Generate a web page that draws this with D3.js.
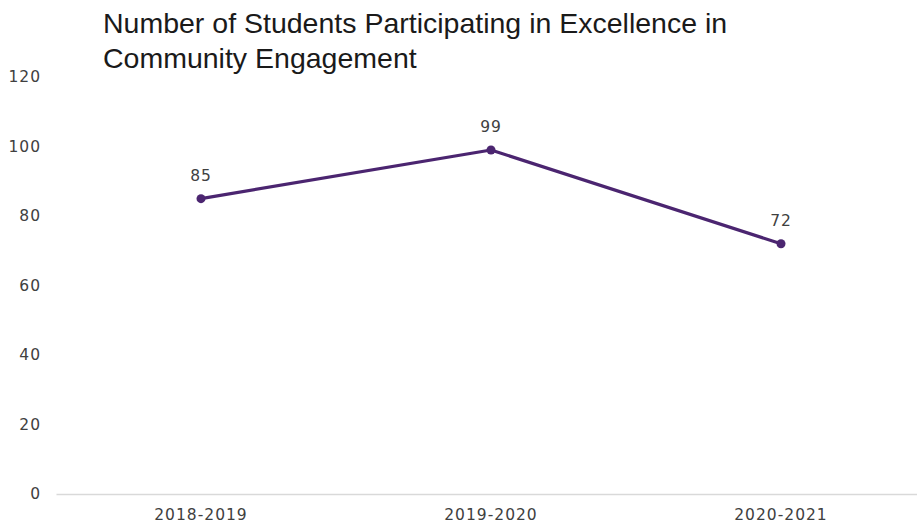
<!DOCTYPE html>
<html>
<head>
<meta charset="utf-8">
<script src="https://cdn.jsdelivr.net/npm/d3@7"></script>
<style>
  html, body { margin: 0; padding: 0; background: #fff; }
  svg { display: block; }
</style>
</head>
<body>
<svg id="chart" width="917" height="529"></svg>
<script>
// Academic years and participant counts
const years = ["2018-2019", "2019-2020", "2020-2021"];
const students = [85, 99, 72];
const yTicks = [0, 20, 40, 60, 80, 100, 120];
const titleLines = ["Number of Students Participating in Excellence in", "Community Engagement"];

const width = 917, height = 529;
const margin = { top: 77, right: -9, bottom: 35, left: 56 };
const svg = d3.select("#chart");

const x = d3.scaleBand()
  .domain(years)
  .range([margin.left, width - margin.right])
  .paddingInner(0).paddingOuter(0);

const y = d3.scaleLinear()
  .domain([0, 120])
  .range([height - margin.bottom, margin.top]);

const font = "'Liberation Sans Narrow', 'Liberation Sans', Arial, sans-serif";
const tickFont = "'DejaVu Sans', sans-serif";
const tickSize = 15.5;
const tickSpacing = 1;

// Title
svg.append("text")
  .attr("x", 103)
  .attr("y", 33)
  .attr("font-family", font)
  .attr("font-size", 28.5)
  .attr("fill", "#1a1a1a")
  .selectAll("tspan")
  .data(titleLines)
  .join("tspan")
  .attr("x", 103)
  .attr("dy", (d, i) => i === 0 ? 0 : 35)
  .text(d => d);

// Y axis labels (no axis line)
const yAxis = d3.axisLeft(y).tickValues(yTicks).tickSize(0).tickPadding(0);
const gy = svg.append("g")
  .attr("transform", `translate(41,0)`)
  .call(yAxis);
gy.select(".domain").remove();
gy.selectAll("text")
  .attr("font-family", tickFont)
  .attr("font-size", tickSize)
  .attr("letter-spacing", tickSpacing)
  .attr("fill", "#404040");

// Baseline with category labels
const xAxis = d3.axisBottom(x).tickSize(0).tickPadding(15);
const gx = svg.append("g")
  .attr("transform", `translate(0,${y(0)})`)
  .call(xAxis);
gx.select(".domain").attr("stroke", "#d9d9d9").attr("stroke-width", 1.3);
gx.selectAll("text")
  .attr("font-family", tickFont)
  .attr("font-size", tickSize)
  .attr("letter-spacing", tickSpacing)
  .attr("fill", "#404040");

const cx = d => x(d) + x.bandwidth() / 2;
const pts = years.map((yr, i) => ({ yr, v: students[i] }));

const purple = "#4b2570";

svg.append("path")
  .datum(pts)
  .attr("fill", "none")
  .attr("stroke", purple)
  .attr("stroke-width", 3.2)
  .attr("stroke-linejoin", "round")
  .attr("d", d3.line().x(d => cx(d.yr)).y(d => y(d.v)));

svg.selectAll("circle.pt")
  .data(pts)
  .join("circle")
  .attr("class", "pt")
  .attr("cx", d => cx(d.yr))
  .attr("cy", d => y(d.v))
  .attr("r", 4.5)
  .attr("fill", purple);

svg.selectAll("text.val")
  .data(pts)
  .join("text")
  .attr("class", "val")
  .attr("x", d => cx(d.yr))
  .attr("y", d => y(d.v) - 18)
  .attr("text-anchor", "middle")
  .attr("font-family", tickFont)
  .attr("font-size", tickSize)
  .attr("letter-spacing", tickSpacing)
  .attr("fill", "#404040")
  .text(d => d.v);
</script>
</body>
</html>
